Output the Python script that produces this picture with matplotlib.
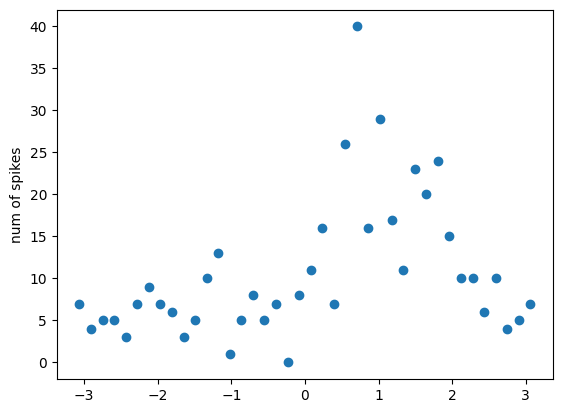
import matplotlib
matplotlib.use("Agg")
import matplotlib.pyplot as plt

# bin centres (phase, radians) and spike counts
phase = [-3.063, -2.906, -2.749, -2.592, -2.435, -2.278, -2.121, -1.963,
         -1.806, -1.649, -1.492, -1.335, -1.178, -1.021, -0.864, -0.707,
         -0.550, -0.393, -0.236, -0.079, 0.079, 0.236, 0.393, 0.550,
         0.707, 0.864, 1.021, 1.178, 1.335, 1.492, 1.649, 1.806,
         1.963, 2.121, 2.278, 2.435, 2.592, 2.749, 2.906, 3.063]
spikes = [7, 4, 5, 5, 3, 7, 9, 7, 6, 3, 5, 10, 13, 1, 5, 8,
          5, 7, 0, 8, 11, 16, 7, 26, 40, 16, 29, 17, 11, 23, 20, 24,
          15, 10, 10, 6, 10, 4, 5, 7]

fig = plt.figure(figsize=(6.4, 4.8), dpi=100)
plt.scatter(phase, spikes)
plt.ylabel("num of spikes")
plt.savefig("out.png", bbox_inches="tight")
